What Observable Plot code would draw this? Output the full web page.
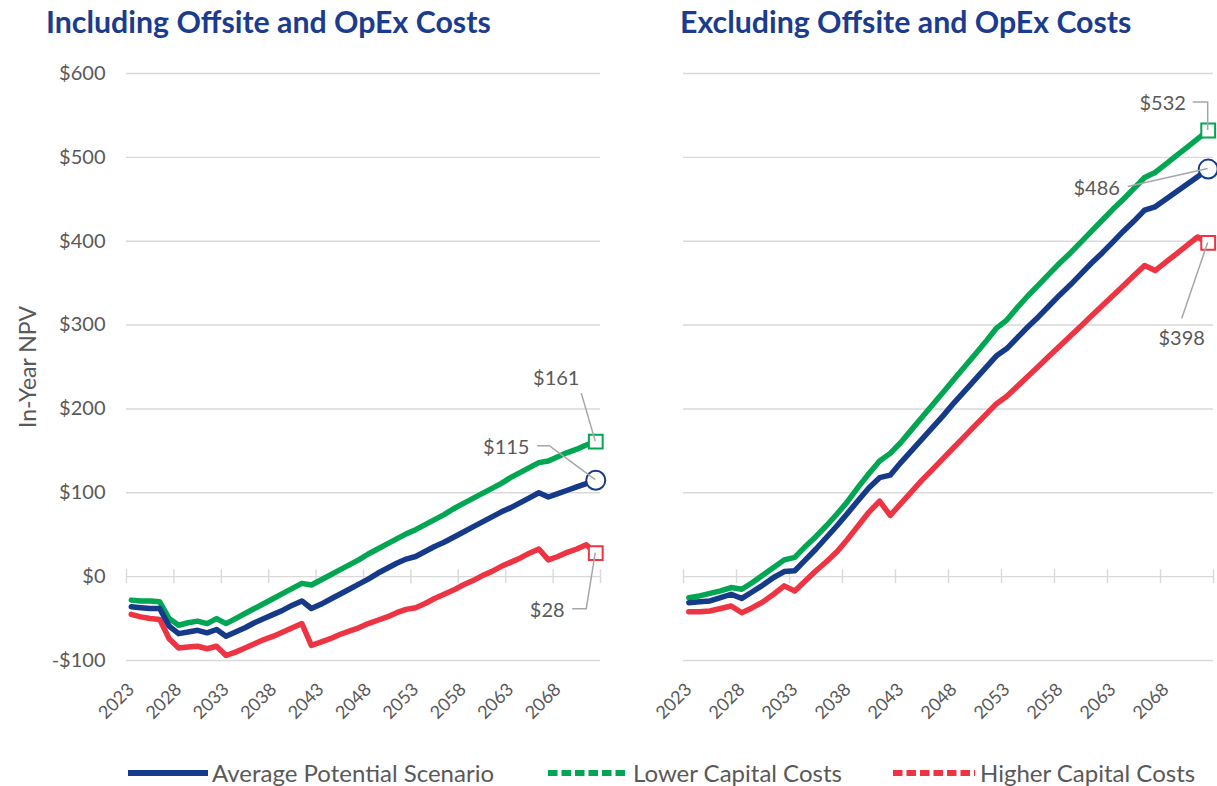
<!DOCTYPE html>
<html>
<head>
<meta charset="utf-8">
<script src="https://cdn.jsdelivr.net/npm/d3@7"></script>
<script src="https://cdn.jsdelivr.net/npm/@observablehq/plot@0.6"></script>
<style>
  body { margin: 0; background: #fff; font-family: Lato, "Noto Sans", sans-serif; }
  #wrap { position: relative; width: 1217px; height: 786px; overflow: hidden; background: #fff; }
  .title { position: absolute; top: 3px; font-weight: 700; font-size: 30.3px; color: #1b3c8e; white-space: nowrap; }
  .panel { position: absolute; top: 50px; }
  .ylab { position: absolute; left: 27px; top: 367px; transform: translate(-50%, -50%) rotate(-90deg); font-size: 23px; color: #595959; white-space: nowrap; }
  .leg { position: absolute; font-size: 24px; color: #595959; white-space: nowrap; line-height: 1; }
  .sw { position: absolute; }
</style>
</head>
<body>
<div id="wrap"></div>
<script>
// ---------- data ----------
const years = d3.range(2023, 2073);
const tickYears = [2023, 2028, 2033, 2038, 2043, 2048, 2053, 2058, 2063, 2068];
const yTicks = [-100, 0, 100, 200, 300, 400, 500, 600];
const seriesNames = ["Average Potential Scenario", "Lower Capital Costs", "Higher Capital Costs"];
const panelTitles = ["Including Offsite and OpEx Costs", "Excluding Offsite and OpEx Costs"];
const yAxisTitle = "In-Year NPV";

// Including Offsite and OpEx Costs
const incAvg = [-36, -37, -38, -38, -59, -68, -66, -64, -67, -63,
  -71, -66, -61, -55, -50, -45, -40, -34, -29, -38,
  -33, -27, -21, -15, -9, -3, 4, 10, 16, 21,
  24, 30, 36, 41, 47, 53, 59, 65, 71, 77,
  82, 88, 94, 100, 95, 99, 103, 107, 111, 115];
const incLow = [-28, -29, -29, -30, -50, -58, -55, -53, -56, -50,
  -56, -50, -44, -38, -32, -26, -20, -14, -8, -10,
  -4, 2, 8, 14, 20, 27, 33, 39, 45, 51,
  56, 62, 68, 74, 81, 87, 93, 99, 105, 111,
  118, 124, 130, 136, 138, 143, 148, 152, 157, 161];
const incHigh = [-45, -48, -50, -51, -74, -85, -84, -83, -86, -83,
  -94, -90, -85, -80, -75, -71, -66, -61, -56, -82,
  -78, -74, -69, -65, -61, -56, -52, -48, -43, -39,
  -37, -32, -26, -21, -16, -10, -5, 1, 6, 12,
  17, 22, 28, 33, 20, 24, 29, 33, 38, 28];

// Excluding Offsite and OpEx Costs
const excAvg = [-31, -30, -29, -25, -21, -26, -18, -10, -1, 6,
  7, 20, 33, 47, 61, 76, 91, 106, 118, 121,
  136, 150, 164, 178, 192, 207, 221, 235, 249, 263,
  272, 285, 298, 310, 323, 336, 348, 361, 374, 386,
  399, 412, 424, 437, 441, 450, 459, 468, 477, 486];
const excLow = [-25, -23, -20, -17, -13, -15, -7, 2, 11, 20,
  23, 36, 48, 61, 75, 90, 107, 123, 138, 147,
  160, 175, 190, 205, 220, 235, 250, 265, 280, 296,
  306, 321, 335, 348, 361, 374, 386, 399, 412, 425,
  438, 450, 463, 476, 482, 492, 502, 512, 522, 532];
const excHigh = [-42, -42, -41, -38, -35, -43, -37, -30, -21, -11,
  -17, -5, 7, 18, 30, 45, 61, 77, 90, 73,
  87, 101, 115, 128, 141, 154, 167, 180, 193, 206,
  215, 227, 239, 251, 263, 275, 287, 299, 311, 323,
  335, 347, 359, 371, 365, 375, 385, 395, 405, 398];

// end labels shown in the chart
const incEndLabels = ["$115", "$161", "$28"];
const excEndLabels = ["$486", "$532", "$398"];

// ---------- style ----------
const BLUE = "#163a8a", GREEN = "#00a651", RED = "#ee3342";
const GRID = "#d9d9d9", TXT = "#595959", LEAD = "#a6a6a6";
const FONT = "Lato, 'Noto Sans', sans-serif";

const wrap = document.getElementById("wrap");
const fmt = d => d < 0 ? "-$" + (-d) : "$" + d;
const boundaries = d3.range(0, 11).map(k => 2022.5 + 5 * k);

function rows(arr) { return years.map((year, i) => ({year, v: arr[i]})); }

function panel(cfg) {
  const avg = rows(cfg.avg), low = rows(cfg.low), high = rows(cfg.high);
  const last = years.length - 1;
  const plot = Plot.plot({
    width: cfg.width, height: 700,
    marginLeft: cfg.ml, marginRight: cfg.mr, marginTop: 23, marginBottom: 90,
    x: {domain: [2022.5, 2072.5]},
    y: {domain: [-100, 600], axis: cfg.showY ? undefined : null},
    style: {fontFamily: FONT, background: "transparent", overflow: "visible"},
    marks: [
      Plot.ruleY(yTicks, {stroke: GRID, strokeWidth: 1.4}),
      Plot.ruleX(boundaries, {y1: () => 0, y2: () => 0, insetTop: -7, insetBottom: -7, stroke: GRID, strokeWidth: 1.4}),
      Plot.axisX(tickYears, {tickSize: 0, tickPadding: 26, tickRotate: -45, tickFormat: d => String(d), fontSize: 18, color: TXT, label: null}),
      cfg.showY ? Plot.axisY(yTicks, {tickSize: 0, tickPadding: 21, tickFormat: fmt, fontSize: 20, color: TXT, label: null}) : null,
      Plot.line(high, {x: "year", y: "v", stroke: RED, strokeWidth: 5.5, strokeLinejoin: "round"}),
      Plot.line(low, {x: "year", y: "v", stroke: GREEN, strokeWidth: 5.5, strokeLinejoin: "round"}),
      Plot.line(avg, {x: "year", y: "v", stroke: BLUE, strokeWidth: 5.5, strokeLinejoin: "round"}),
      Plot.dot([avg[last]], {x: "year", y: "v", r: 9.5, stroke: BLUE, fill: "white", strokeWidth: 2}),
      Plot.dot([low[last]], {x: "year", y: "v", r: 7.8, symbol: "square", stroke: GREEN, fill: "white", strokeWidth: 2}),
      Plot.dot([high[last]], {x: "year", y: "v", r: 7.8, symbol: "square", stroke: RED, fill: "white", strokeWidth: 2})
    ]
  });
  const div = document.createElement("div");
  div.className = "panel";
  div.style.left = cfg.left + "px";
  div.appendChild(plot);
  wrap.appendChild(div);

  // annotation leaders + labels positioned from the library's scales
  const sx = plot.scale("x"), sy = plot.scale("y");
  const svg = d3.select(plot);
  const g = svg.append("g");
  const ends = [cfg.avg[last], cfg.low[last], cfg.high[last]];
  cfg.notes.forEach((n, i) => {
    const px = sx.apply(years[last]), py = sy.apply(ends[i]);
    const pts = n.path.map(([dx, dy]) => [px + dx, py + dy]);
    g.append("path").attr("d", d3.line()(pts)).attr("fill", "none").attr("stroke", LEAD).attr("stroke-width", 1.5);
    g.append("text").attr("x", px + n.text[0]).attr("y", py + n.text[1])
      .attr("text-anchor", "middle").attr("dominant-baseline", "central")
      .attr("font-family", FONT).attr("font-size", 20).attr("fill", TXT).text(cfg.labels[i]);
  });
}

panel({left: 0, width: 610, ml: 126, mr: 10, showY: true,
  avg: incAvg, low: incLow, high: incHigh, labels: incEndLabels,
  notes: [
    {text: [-89, -34], path: [[-58, -34], [-46, -34], [0, 0]]},
    {text: [-39, -64], path: [[-14, -48], [0, 0]]},
    {text: [-48, 56], path: [[-23, 56], [-9, 56], [0, 0]]}
  ]});
panel({left: 610, width: 607, ml: 73, mr: 4, showY: false,
  avg: excAvg, low: excLow, high: excHigh, labels: excEndLabels,
  notes: [
    {text: [-111, 18], path: [[-80, 18], [0, 0]]},
    {text: [-45, -28], path: [[-15, -28], [0, -28], [0, 0]]},
    {text: [-26, 95], path: [[-26, 76], [0, 0]]}
  ]});

// titles
[[46, panelTitles[0]], [680, panelTitles[1]]].forEach(([x, t]) => {
  const d = document.createElement("div");
  d.className = "title"; d.style.left = x + "px"; d.textContent = t;
  wrap.appendChild(d);
});
const yl = document.createElement("div");
yl.className = "ylab"; yl.textContent = yAxisTitle; wrap.appendChild(yl);

// legend
const legendItems = [
  {name: seriesNames[0], color: BLUE, dash: null, x1: 128, x2: 208, tx: 212},
  {name: seriesNames[1], color: GREEN, dash: "9.5 4", x1: 548, x2: 628, tx: 633},
  {name: seriesNames[2], color: RED, dash: "9.5 4", x1: 893, x2: 975, tx: 980}
];
legendItems.forEach(it => {
  const s = d3.select(wrap).append("svg").attr("class", "sw")
    .style("left", it.x1 + "px").style("top", "763px")
    .attr("width", it.x2 - it.x1).attr("height", 20);
  s.append("line").attr("x1", 0).attr("x2", it.x2 - it.x1).attr("y1", 10).attr("y2", 10)
    .attr("stroke", it.color).attr("stroke-width", 6)
    .attr("stroke-dasharray", it.dash).attr("stroke-linecap", it.dash ? "butt" : "round");
  const d = document.createElement("div");
  d.className = "leg"; d.style.left = it.tx + "px"; d.style.top = "761px"; d.textContent = it.name;
  wrap.appendChild(d);
});
</script>
</body>
</html>
